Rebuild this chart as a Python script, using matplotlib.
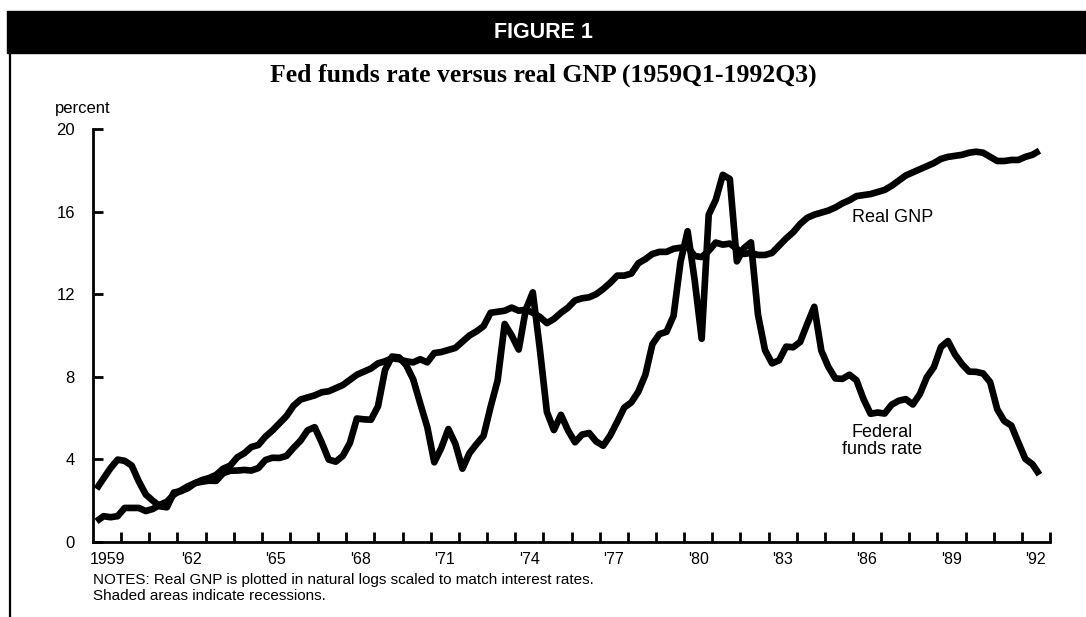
import numpy as np
import matplotlib
matplotlib.use("Agg")
import matplotlib.pyplot as plt
from matplotlib.lines import Line2D

# quarterly data, 1959Q1 - 1992Q3
fed_funds = [2.57, 3.08, 3.58, 3.99,
             3.93, 3.70, 2.94, 2.30,
             2.00, 1.73, 1.68, 2.40,
             2.46, 2.61, 2.85, 2.92,
             2.97, 2.96, 3.33, 3.45,
             3.46, 3.49, 3.46, 3.58,
             3.97, 4.08, 4.07, 4.17,
             4.56, 4.91, 5.41, 5.56,
             4.82, 3.99, 3.89, 4.17,
             4.79, 5.98, 5.94, 5.92,
             6.57, 8.33, 8.98, 8.94,
             8.57, 7.88, 6.71, 5.57,
             3.86, 4.56, 5.47, 4.75,
             3.55, 4.30, 4.74, 5.14,
             6.54, 7.82, 10.56, 10.00,
             9.32, 11.25, 12.09, 9.35,
             6.30, 5.42, 6.16, 5.41,
             4.83, 5.20, 5.28, 4.87,
             4.66, 5.16, 5.82, 6.51,
             6.76, 7.28, 8.10, 9.58,
             10.07, 10.18, 10.95, 13.58,
             15.05, 12.69, 9.84, 15.85,
             16.57, 17.78, 17.58, 13.59,
             14.23, 14.51, 11.01, 9.29,
             8.65, 8.80, 9.46, 9.43,
             9.69, 10.56, 11.39, 9.27,
             8.48, 7.92, 7.90, 8.10,
             7.83, 6.92, 6.21, 6.27,
             6.22, 6.65, 6.84, 6.92,
             6.66, 7.16, 7.98, 8.47,
             9.44, 9.73, 9.08, 8.61,
             8.25, 8.24, 8.16, 7.74,
             6.43, 5.86, 5.64, 4.82,
             4.02, 3.77, 3.26]

real_gnp = [1.00, 1.25, 1.20, 1.25,
            1.65, 1.65, 1.65, 1.50,
            1.60, 1.80, 1.95, 2.30,
            2.50, 2.70, 2.85, 3.00,
            3.10, 3.25, 3.55, 3.70,
            4.10, 4.30, 4.60, 4.70,
            5.10, 5.40, 5.75, 6.10,
            6.60, 6.90, 7.00, 7.10,
            7.25, 7.30, 7.45, 7.60,
            7.85, 8.10, 8.25, 8.40,
            8.65, 8.75, 8.90, 8.85,
            8.75, 8.70, 8.85, 8.70,
            9.15, 9.20, 9.30, 9.40,
            9.70, 10.00, 10.20, 10.45,
            11.10, 11.15, 11.20, 11.35,
            11.20, 11.25, 11.10, 10.90,
            10.60, 10.80, 11.10, 11.35,
            11.70, 11.80, 11.85, 12.00,
            12.25, 12.55, 12.90, 12.90,
            13.00, 13.50, 13.70, 13.95,
            14.05, 14.05, 14.20, 14.25,
            14.30, 13.85, 13.80, 14.10,
            14.50, 14.40, 14.45, 14.20,
            13.95, 14.00, 13.90, 13.90,
            14.00, 14.35, 14.70, 15.00,
            15.40, 15.70, 15.85, 15.95,
            16.05, 16.20, 16.40, 16.55,
            16.75, 16.80, 16.85, 16.95,
            17.05, 17.25, 17.50, 17.75,
            17.90, 18.05, 18.20, 18.35,
            18.55, 18.65, 18.70, 18.75,
            18.85, 18.90, 18.85, 18.65,
            18.45, 18.45, 18.50, 18.50,
            18.65, 18.75, 18.95]

year_ticks = list(range(1960, 1994))
label_years = [1959, 1962, 1965, 1968, 1971, 1974, 1977, 1980, 1983, 1986, 1989, 1992]
label_text = ["1959", "'62", "'65", "'68", "'71", "'74", "'77", "'80", "'83", "'86", "'89", "'92"]
y_ticks = [0, 4, 8, 12, 16, 20]

# quarter midpoints
t = 1959 + (np.arange(len(fed_funds)) + 0.5) / 4

plt.rcParams['font.family'] = ['Liberation Sans', 'DejaVu Sans']

fig = plt.figure(figsize=(10.86, 6.17), dpi=100)
W, H = 1086, 617

# black header bar + left frame line
fig.patches.append(plt.Rectangle((7 / W, 1 - 53 / H), 1 - 7 / W, 42 / H,
                                 transform=fig.transFigure, color='black', zorder=0))
fig.add_artist(Line2D([9.5 / W, 9.5 / W], [0, 1 - 53 / H], color='black', lw=1.6))
fig.text(543 / W, 1 - 32 / H, "FIGURE 1", color='white', fontsize=15.5,
         fontweight='bold', ha='center', va='center')
fig.text(543 / W, 1 - 75 / H, "Fed funds rate versus real GNP (1959Q1-1992Q3)",
         family='Liberation Serif', fontsize=18.5, fontweight='bold', ha='center', va='center')

ax = fig.add_axes([93 / W, 1 - 542 / H, (1050 - 93) / W, (542 - 129) / H])
ax.plot(t, real_gnp, color='black', lw=4.8, solid_joinstyle='round', solid_capstyle='butt', clip_on=False)
ax.plot(t, fed_funds, color='black', lw=4.8, solid_joinstyle='round', solid_capstyle='butt', clip_on=False)

ax.set_xlim(1959, 1993)
ax.set_ylim(0, 20)
for s in ['top', 'right']:
    ax.spines[s].set_visible(False)
for s in ['left', 'bottom']:
    ax.spines[s].set_linewidth(2)

ax.set_yticks(y_ticks)
ax.set_yticklabels([str(v) for v in y_ticks])
ax.tick_params(axis='y', direction='in', length=7, width=2, labelsize=12, pad=13)

ax.set_xticks(year_ticks)
ax.set_xticklabels([])
ax.set_xticks([y + 0.5 for y in label_years], minor=True)
ax.set_xticklabels(label_text, minor=True)
ax.tick_params(axis='x', which='major', direction='in', length=7, width=2)
ax.tick_params(axis='x', which='minor', length=0, labelsize=11.5, pad=7)

fig.text(55 / W, 1 - 109 / H, "percent", fontsize=12, ha='left', va='center')
ax.text(1987.42, 15.7, "Real GNP", fontsize=13, ha='center', va='center')
ax.text(1987.03, 4.9, "Federal\nfunds rate", fontsize=13, ha='center', va='center', linespacing=1.0)

fig.text(93 / W, 1 - 580 / H, "NOTES: Real GNP is plotted in natural logs scaled to match interest rates.",
         fontsize=11, ha='left', va='center')
fig.text(93 / W, 1 - 596 / H, "Shaded areas indicate recessions.", fontsize=11, ha='left', va='center')

fig.savefig("out.png", dpi=100)
